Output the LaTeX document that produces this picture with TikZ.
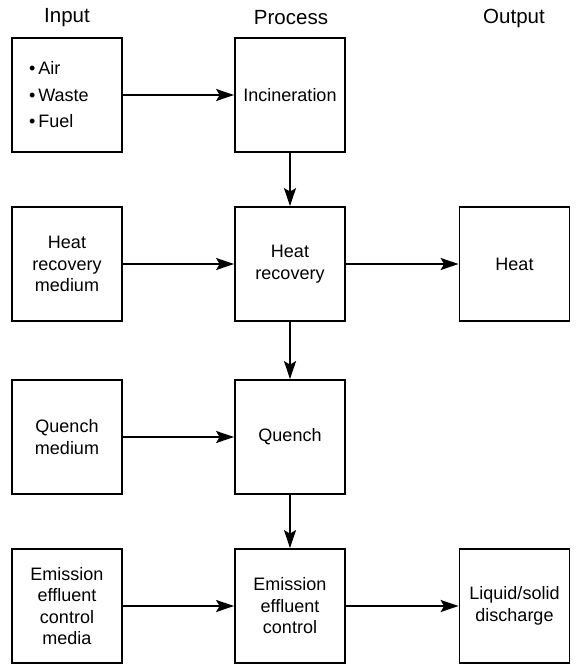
\documentclass[tikz,border=0pt]{standalone}
\usepackage{fontspec}
\setmainfont{Liberation Sans}
\usetikzlibrary{arrows.meta,positioning}

\begin{document}
\begin{tikzpicture}[
      x=1pt, y=-1pt,
      font=\fontsize{18}{21.5}\selectfont, >={Stealth[length=18pt,width=12pt,inset=3.5pt]},
      every node/.style={align=center},
      procbox/.style={rectangle, draw=black, line width=1.8pt,
        minimum width=110pt, minimum height=114pt, inner sep=2pt},
      colhead/.style={font=\fontsize{20.5}{24}\selectfont},
      arr/.style={->, line width=1.8pt},
    ]
    \useasboundingbox (0,0) rectangle (576,664);

    % ── COLUMN HEADS ────────────────────────────────────────────
    \node[colhead] (hin)   at (67, 18)  {Input};
    \node[colhead] (hproc) at (291, 18) {Process};
    \node[colhead] (hout)  at (514, 18) {Output};

    % ── INPUT COLUMN ────────────────────────────────────────────
    \node[procbox, text width=76pt, align=left] (feed) at (67, 95)
      {\textbullet\,Air\\[5pt]\textbullet\,Waste\\[5pt]\textbullet\,Fuel};
    \node[procbox] (hrmed) at (67, 264) {Heat\\recovery\\medium};
    \node[procbox] (qmed)  at (67, 437) {Quench\\medium};
    \node[procbox] (emmed) at (67, 606) {Emission\\effluent\\control\\media};

    % ── PROCESS COLUMN ──────────────────────────────────────────
    \node[procbox] (burn)   at (290, 95)  {Incineration};
    \node[procbox] (hrec)   at (290, 264) {Heat\\recovery};
    \node[procbox] (quench) at (290, 437) {Quench};
    \node[procbox] (emctl)  at (290, 606) {Emission\\effluent\\control};

    % ── OUTPUT COLUMN ───────────────────────────────────────────
    \node[procbox] (heat)  at (514.5, 264) {Heat};
    \node[procbox] (disch) at (514.5, 606) {Liquid/solid\\discharge};

    % ── FLOWS ───────────────────────────────────────────────────
    \draw[arr] (feed) -- (burn);
    \draw[arr] (hrmed) -- (hrec);
    \draw[arr] (qmed) -- (quench);
    \draw[arr] (emmed) -- (emctl);

    \draw[arr] (burn) -- (hrec);
    \draw[arr] (hrec) -- (quench);
    \draw[arr] (quench) -- (emctl);

    \draw[arr] (hrec) -- (heat);
    \draw[arr] (emctl) -- (disch);
\end{tikzpicture}
\end{document}
